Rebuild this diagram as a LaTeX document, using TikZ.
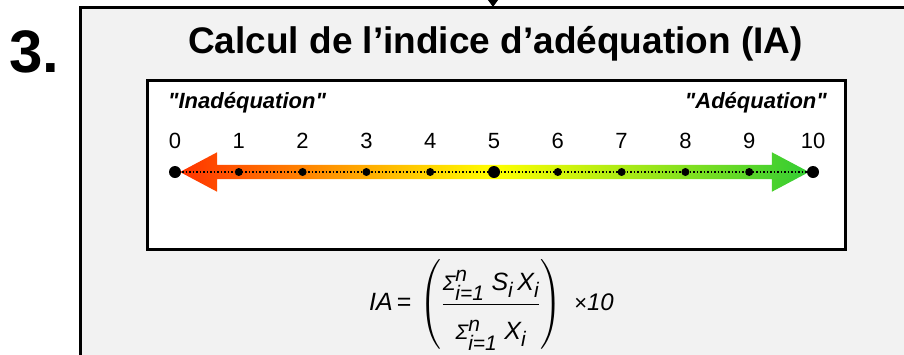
\documentclass[tikz,border=0pt]{standalone}
\usepackage{fontspec}
\setmainfont{Liberation Sans}
\usepackage{amsmath}
\usetikzlibrary{shapes.arrows, arrows.meta, positioning, calc}

\definecolor{badred}{RGB}{255,51,0}
\definecolor{midyellow}{RGB}{255,255,0}
\definecolor{goodgreen}{RGB}{51,204,51}

\newcommand{\iv}[1]{\text{\itshape #1}}
\newcommand{\mv}[1]{\text{\fontsize{25}{28}\selectfont\itshape #1}}
\newcommand{\sv}[1]{\text{\fontsize{21}{24}\selectfont\itshape #1}}
\newcommand{\qt}[1]{\textquotedbl#1\textquotedbl}

\begin{document}
\begin{tikzpicture}[
    x=1pt, y=-1pt,
    frame/.style={draw, line width=3pt, fill=black!5},
    panel/.style={draw, line width=3pt, fill=white},
    heading/.style={font=\bfseries\fontsize{37}{40}\selectfont, inner sep=0pt},
    stepnum/.style={font=\bfseries\fontsize{60}{64}\selectfont, inner sep=0pt},
    pole/.style={font=\bfseries\itshape\fontsize{22}{26}\selectfont, inner sep=0pt},
    tick/.style={circle, fill=black, inner sep=0pt, minimum size=8pt},
    bigtick/.style={circle, fill=black, inner sep=0pt, minimum size=12pt},
    num/.style={font=\fontsize{22}{26}\selectfont, inner sep=0pt, anchor=base},
    gradbar/.style={double arrow, double arrow tip angle=56, double arrow head extend=12.5pt,
        inner sep=7pt, minimum height=629pt, shape border uses incircle=false,
        left color=badred, right color=goodgreen, middle color=midyellow, draw=none},
    formula/.style={font=\fontsize{25}{28}\selectfont, inner sep=0pt},
    arrow/.style={-{Triangle[width=11pt, length=8pt]}, line width=2pt}
]
\useasboundingbox (0,0) rectangle (904,354);
\clip (0,0) rectangle (904,354);

% Frames
\draw[frame] (80,7.5) rectangle (920,370);
\draw[panel] (147,80) rectangle (845,249);

% Incoming arrow
\coordinate (prev) at (493,-10);
\coordinate (entry) at (493,7);
\draw[arrow] (prev) -- (entry);

% Headings
\node[stepnum, anchor=base west] (step) at (9,72) {3.};
\node[heading, anchor=base] (title) at (495.5,53.5) {Calcul de l’indice d’adéquation (IA)};

% Scale
\node[pole, anchor=base west] (bad) at (168,108) {\qt{Inadéquation}};
\node[pole, anchor=base east] (good) at (827,108) {\qt{Adéquation}};
\node[gradbar] (bar) at (494.5,172) {};

\foreach \i in {0,...,10} {
    \coordinate (c\i) at (175+63.8*\i,172);
}
\draw[dotted, line width=1.5pt] (c0) -- (c10);
\foreach \i in {0,...,10} {
    \ifnum\i=0 \def\kind{bigtick}\else\ifnum\i=5 \def\kind{bigtick}\else\ifnum\i=10 \def\kind{bigtick}\else\def\kind{tick}\fi\fi\fi
    \node[\kind] (d\i) at (c\i) {};
    \node[num] (n\i) at ($(c\i)+(0,-24)$) {\i};
}

% Formula
\node[formula] (ia) at (491.5,305) {$\iv{IA}\,\text{=}\,\left(\rule[-39pt]{0pt}{90pt}\dfrac{\sv{Σ}^{\sv{n}}_{\sv{i=1}}\hspace{7pt}\mv{S}_{\sv{i}}\hspace{4pt}\mv{X}_{\sv{i}}}{\rule{0pt}{32pt}\sv{Σ}^{\sv{n}}_{\sv{i=1}}\hspace{7pt}\mv{X}_{\sv{i}}}\right)\hspace{8pt}\text{\fontsize{22}{24}\selectfont×}\text{\fontsize{24}{26}\selectfont\itshape 10}$};

\end{tikzpicture}
\end{document}
